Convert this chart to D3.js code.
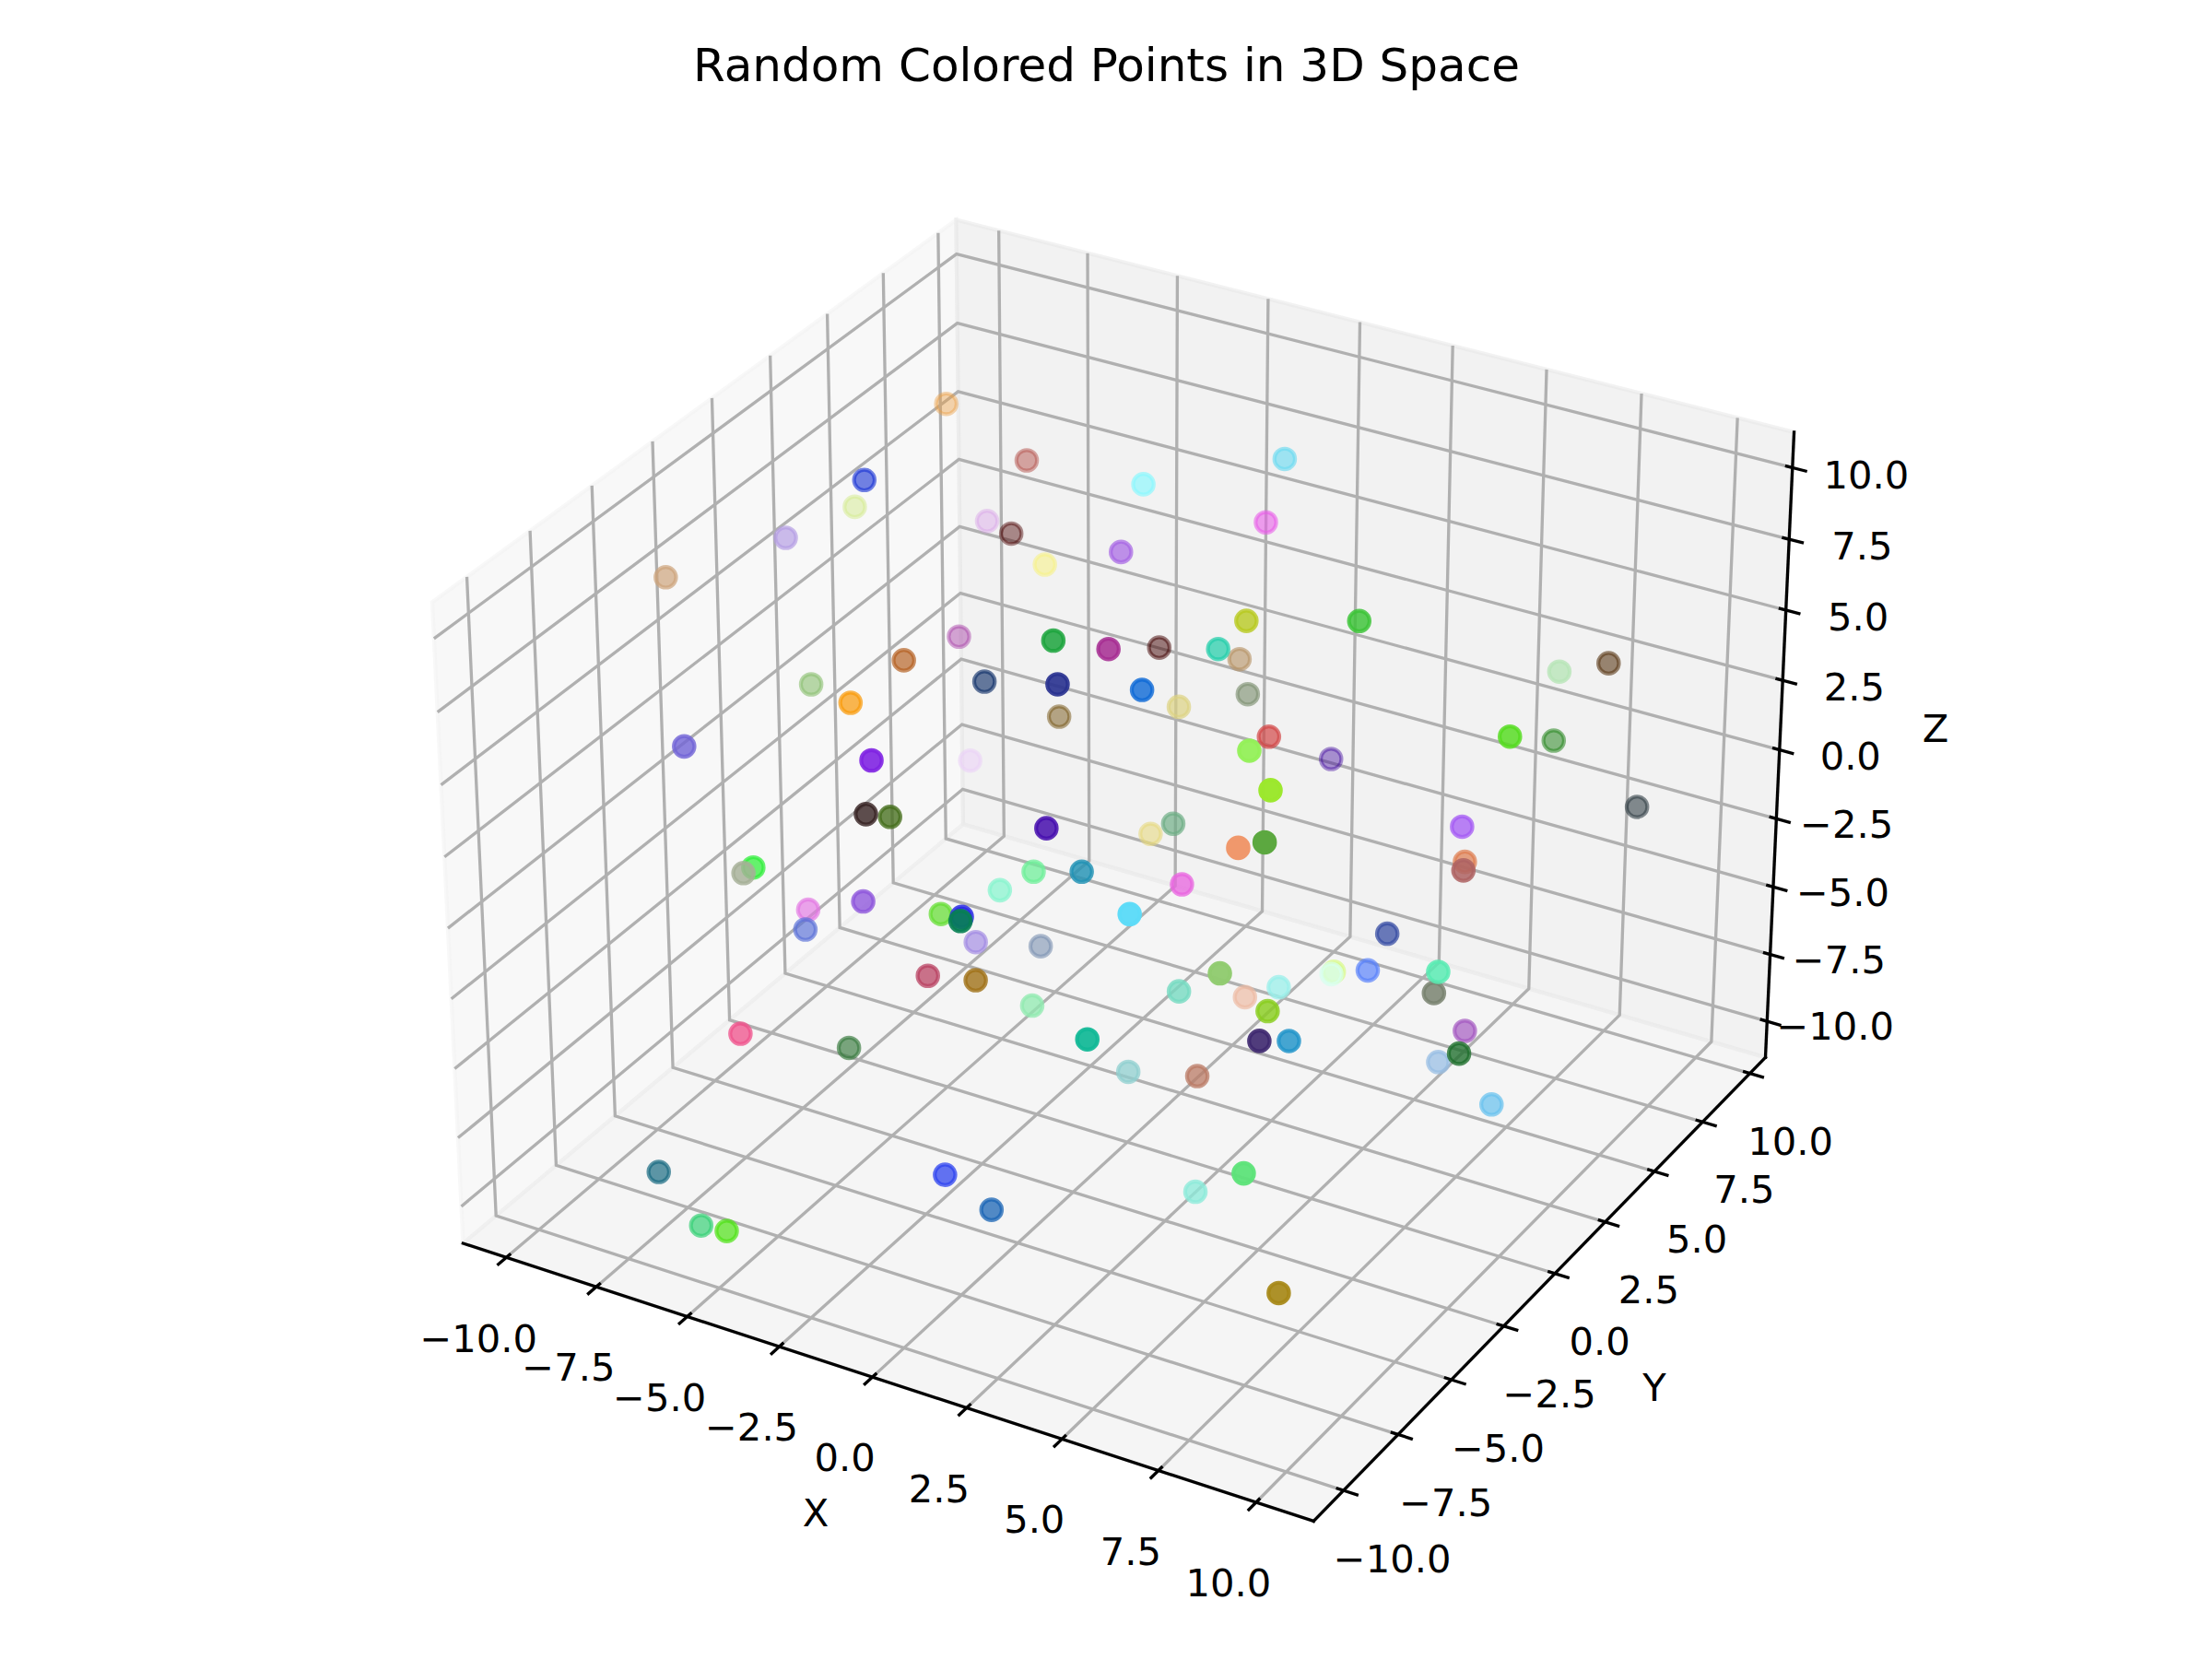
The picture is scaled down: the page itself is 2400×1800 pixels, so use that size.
<!DOCTYPE html>
<html><head><meta charset="utf-8"><style>html,body{margin:0;background:#fff}svg{display:block}text{font-family:"DejaVu Sans";fill:#000}</style>
<script src="https://cdn.jsdelivr.net/npm/d3@7"></script></head><body>
<svg id="c" width="2400" height="1800" viewBox="0 0 2400 1800"></svg>
<script>
const title="Random Colored Points in 3D Space";
const axisNames=["X","Y","Z"];
const tickValues=[-10,-7.5,-5,-2.5,0,2.5,5,7.5,10];
const tickLabels=["\u221210.0","\u22127.5","\u22125.0","\u22122.5","0.0","2.5","5.0","7.5","10.0"];
const xLim=[-11.21,11.46],yLim=[-11.35,10.83],zLim=[-11.36,11.23];
const xs=[-9.56,-6.13,-8.05,-9.94,-8.03,-7.31,-4.16,-7.87,-9.95,-1.24,0.73,-0.11,-0.96,3.29,6.16,-7.26,0.70,2.05,-2.63,2.16,0.97,-5.01,-7.36,-5.21,-3.94,1.89,2.00,1.17,1.89,-4.29,9.94,8.23,-6.55,3.11,
6.58,0.35,9.76,6.66,-1.33,-4.39,7.73,9.52,-2.77,-2.74,1.60,-0.71,1.52,7.64,8.11,8.23,7.58,9.94,-5.84,-4.62,-0.09,1.98,-0.70,3.13,-5.61,-2.61,-5.34,-2.01,0.32,1.15,-2.19,-1.68,5.61,-1.76,
0.35,0.98,7.53,4.31,3.88,5.52,6.52,5.51,5.84,6.29,7.22,9.94,9.95,8.48,8.86,9.94,7.72,7.26,4.84,3.14,4.48,9.94,-4.54,-3.78,-6.62,-5.50,-4.80,-0.06,1.11,5.45,8.81,9.72];
const ys=[7.63,5.70,1.56,4.07,6.97,6.90,3.25,-2.11,-3.99,2.83,5.96,6.59,1.34,-0.29,-0.23,4.39,-4.43,-4.30,5.95,0.41,3.49,-1.64,-1.96,-3.63,0.15,-6.23,-2.74,0.34,2.27,4.08,2.28,8.14,-8.47,1.12,
-5.91,9.09,0.30,8.52,-8.85,0.21,-6.99,7.30,-6.87,-5.91,-6.26,2.28,-0.50,-8.23,-7.90,1.01,2.42,-2.12,-6.87,-9.11,-4.04,-5.37,-4.52,-2.87,-4.98,-7.30,-5.53,-4.97,-7.81,-9.20,-3.18,-1.13,-9.41,-5.96,
-7.30,-5.90,-8.80,-5.02,-1.25,-2.59,-4.87,0.01,-0.70,0.21,-0.60,-3.21,-3.41,0.91,-1.08,-2.12,-7.36,-5.20,-9.93,-5.28,-4.47,-0.47,-9.53,-6.20,-9.94,-9.93,-9.93,-8.05,-7.95,-6.21,-9.93,-9.93];
const zs=[7.02,7.33,8.50,5.35,3.71,3.55,5.83,8.81,7.88,9.93,9.58,6.67,8.60,8.77,9.76,1.41,9.81,9.93,1.69,6.94,4.17,5.26,3.76,4.99,3.74,9.93,7.51,4.61,4.06,-0.21,7.79,3.67,6.16,3.77,
9.23,-3.34,6.79,0.07,7.89,0.72,9.06,-0.43,4.18,3.45,4.95,-1.92,1.18,7.94,8.08,2.62,0.17,3.89,1.14,2.95,1.28,2.99,0.72,1.28,-1.57,1.50,-1.79,-0.32,2.46,3.61,-2.64,-4.02,5.74,-1.72,
-0.09,-1.72,4.07,-0.51,-3.56,-1.60,-0.42,-2.89,-2.34,-2.67,-0.43,1.14,0.55,-4.46,-3.99,-2.50,0.81,-0.93,1.54,-3.64,-3.83,-5.51,-2.35,-4.94,-7.86,-9.34,-9.24,-6.61,-7.45,-6.27,-1.43,-5.20];
const colors=["eb9f46","b75953","1531d3","d3ea8a","d8a1e8","480000","f6f288","b59de3","cda279","8cf7fd","6adaf1","e95ae9","a564e3","b7c91e","3cc438","a843a8","1ca43d","a62e93","400000","25ceab","b79467","b45e1e","8fc276","fa9a08","103069","29328f","0e69d6","ddd282","819375","745414","b8e5b8","5c3b1b","7265d6","d24848",
"93f058","3d039d","55dc20","25851e","7f24e2","ead2f6","9be82d","323f46","372323","446e1b","460eae","e6d87c","6eae85","f0986c","5ca840","a459f4","dd794b","ae6363","30ef3a","a6af97","6eef99","2192b4","88f4ce","e965df","e276e2","8e56db","5b72d7","64de32","2828e6","078053","9f87e2","7d91b2","5ddbf8","b84061",
"a07319","91eab0","91cb70","77dbc2","eeb9a2","99efe9","89cd1f","d7fa84","d8ffee","5780fa","374da3","58ebb2","79826f","a255bf","97bde4","1e6f2d","3f2970","2194c9","11b896","90cfcf","ba7a65","68c2ee","ef538c","3d7e43","196a81","35d175","4fe316","2e43ef","1964b4","8deada","5de37a","a68817"].map(h=>"#"+h);

// matplotlib-style 3D view: elev 30, azim -60, perspective with distance 10
const boxSize=[1.19048,1.19048,.89286];
const sx=d3.scaleLinear().domain(xLim).range([-boxSize[0]/2,boxSize[0]/2]);
const sy=d3.scaleLinear().domain(yLim).range([-boxSize[1]/2,boxSize[1]/2]);
const sz=d3.scaleLinear().domain(zLim).range([-boxSize[2]/2,boxSize[2]/2]);
const U=[.8660254,.5,0],V=[-.25,.4330127,.8660254],W=[.4330127,-.75,.5];
const dot=(a,b)=>a[0]*b[0]+a[1]*b[1]+a[2]*b[2];
const K=8880,CX=1222,CY=910.5;
function depth(x,y,z){return dot([sx(x),sy(y),sz(z)],W)}
function proj(x,y,z){const q=[sx(x),sy(y),sz(z)],d=10-dot(q,W);return [CX+K*dot(q,U)/d,CY-K*dot(q,V)/d]}
const alpha=d3.scaleLinear().domain([-.65,.65]).range([.3,1]).clamp(true);

const svg=d3.select("#c");
const [x0,x1]=xLim,[y0,y1]=yLim,[z0,z1]=zLim;
const poly=pts=>pts.map(p=>proj(...p).map(v=>v.toFixed(2)).join(",")).join(" ");
const panes=[
 {c:"rgb(242,242,242)",pts:[[x0,y0,z0],[x0,y1,z0],[x0,y1,z1],[x0,y0,z1]]},
 {c:"rgb(230,230,230)",pts:[[x0,y1,z0],[x1,y1,z0],[x1,y1,z1],[x0,y1,z1]]},
 {c:"rgb(236,236,236)",pts:[[x0,y0,z0],[x1,y0,z0],[x1,y1,z0],[x0,y1,z0]]}];
svg.append("g").selectAll("polygon").data(panes).join("polygon")
 .attr("points",d=>poly(d.pts)).attr("fill",d=>d.c).attr("fill-opacity",.5)
 .attr("stroke",d=>d.c).attr("stroke-opacity",.5).attr("stroke-width",4.17).attr("stroke-linejoin","miter");

const path=pts=>"M"+pts.map(p=>proj(...p).map(v=>v.toFixed(2)).join(",")).join("L");
const grid=[];
tickValues.forEach(t=>{
 grid.push([[t,y0,z0],[t,y1,z0],[t,y1,z1]]);
 grid.push([[x0,t,z1],[x0,t,z0],[x1,t,z0]]);
 grid.push([[x0,y0,t],[x0,y1,t],[x1,y1,t]]);
});
svg.append("g").selectAll("path").data(grid).join("path").attr("d",path)
 .attr("fill","none").attr("stroke","#b0b0b0").attr("stroke-width",3.33).attr("stroke-linejoin","miter");

const axes=[[[x0,y0,z0],[x1,y0,z0]],[[x1,y0,z0],[x1,y1,z0]],[[x1,y1,z0],[x1,y1,z1]]];
svg.append("g").selectAll("path").data(axes).join("path").attr("d",path)
 .attr("fill","none").attr("stroke","#000").attr("stroke-width",3.33).attr("stroke-linecap","square");

const dY=(y1-y0)/12,dX=(x1-x0)/12;
const ticks=[];
tickValues.forEach(t=>{
 ticks.push([[t,y0+.1*dY,z0],[t,y0-.2*dY,z0]]);
 ticks.push([[x1-.1*dX,t,z0],[x1+.2*dX,t,z0]]);
 ticks.push([[x1-.1*dX,y1,t],[x1+.2*dX,y1,t]]);
});
svg.append("g").selectAll("path").data(ticks).join("path").attr("d",path)
 .attr("fill","none").attr("stroke","#000").attr("stroke-width",3.33);

const lab=svg.append("g").attr("font-size",41.67).attr("text-anchor","middle");
tickValues.forEach((t,i)=>{
 const f=i/(tickValues.length-1);
 const px=proj(t,y0,z0), py=proj(x1,t,z0), pz=proj(x1,y1,t);
 lab.append("text").attr("x",px[0]-30).attr("y",px[1]+87).attr("dy",".365em").text(tickLabels[i]);
 lab.append("text").attr("x",py[0]+53-9*f).attr("y",py[1]+73.6-.9*f).attr("dy",".365em").text(tickLabels[i]);
 lab.append("text").attr("x",pz[0]+74+6*f).attr("y",pz[1]+5+2*f).attr("dy",".365em").text(tickLabels[i]);
});
[[885,1641],[1795,1505],[2100,790]].forEach((p,i)=>lab.append("text").attr("x",p[0]).attr("y",p[1]).attr("dy",".365em").text(axisNames[i]));
svg.append("text").attr("x",1200.5).attr("y",70).attr("dy",".365em").attr("text-anchor","middle").attr("font-size",50).text(title);

const pts=xs.map((x,i)=>({x,y:ys[i],z:zs[i],c:colors[i],d:depth(x,ys[i],zs[i])})).sort((a,b)=>a.d-b.d);
svg.append("g").selectAll("circle").data(pts).join("circle")
 .attr("cx",d=>proj(d.x,d.y,d.z)[0]).attr("cy",d=>proj(d.x,d.y,d.z)[1]).attr("r",11.2)
 .attr("fill",d=>d.c).attr("fill-opacity",d=>alpha(d.d))
 .attr("stroke",d=>d.c).attr("stroke-opacity",d=>alpha(d.d)).attr("stroke-width",4.17);
</script></body></html>
